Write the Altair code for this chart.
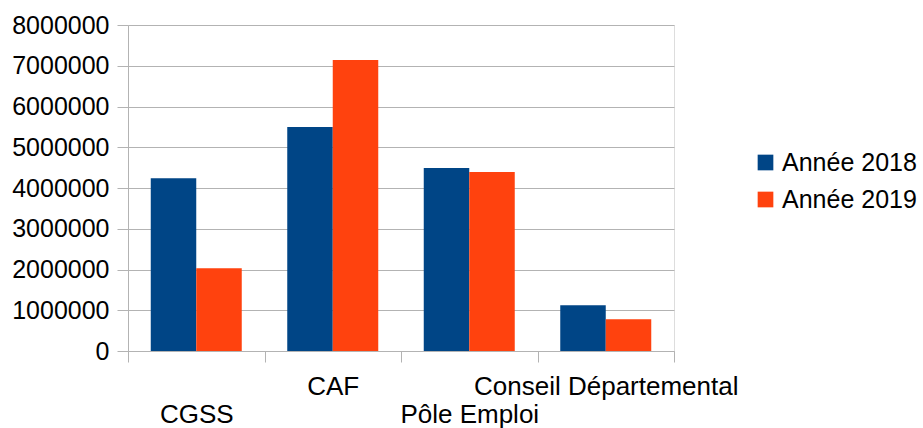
import altair as alt
import pandas as pd

categories = ["CGSS", "CAF", "Pôle Emploi", "Conseil Départemental"]
series = ["Année 2018", "Année 2019"]
values_2018 = [4240000, 5500000, 4490000, 1120000]
values_2019 = [2030000, 7140000, 4390000, 780000]
colors = ["#004586", "#ff420e"]
y_ticks = [0, 1000000, 2000000, 3000000, 4000000, 5000000, 6000000, 7000000, 8000000]

rows = []
for c, a, b in zip(categories, values_2018, values_2019):
    rows.append({"cat": c, "serie": series[0], "val": a})
    rows.append({"cat": c, "serie": series[1], "val": b})
df = pd.DataFrame(rows)

FONT = "Liberation Sans"
GRID = "#b3b3b3"

label_expr = "indexof(['CGSS', 'Pôle Emploi'], datum.value) >= 0 ? ['', datum.value] : datum.value"

chart = alt.Chart(df).mark_bar().encode(
    x=alt.X("cat:N", sort=categories, title=None,
            scale=alt.Scale(paddingInner=0, paddingOuter=0),
            axis=alt.Axis(labelAngle=0, tickBand="extent", tickSize=11, tickColor=GRID,
                          domainColor=GRID, labelFontSize=26, labelFont=FONT,
                          labelColor="black", labelPadding=11, labelLineHeight=28,
                          labelExpr=label_expr, labelOverlap=False, labelLimit=0,
                          grid=False)),
    xOffset=alt.XOffset("serie:N", sort=series,
                        scale=alt.Scale(paddingOuter=0.5, paddingInner=0)),
    y=alt.Y("val:Q", title=None,
            scale=alt.Scale(domain=[0, 8000000], nice=False),
            axis=alt.Axis(values=y_ticks, format="d", tickSize=11, tickColor=GRID,
                          domainColor=GRID, gridColor=GRID, labelFontSize=25,
                          labelFont=FONT, labelColor="black", labelPadding=8)),
    color=alt.Color("serie:N", sort=series,
                    scale=alt.Scale(domain=series, range=colors),
                    legend=alt.Legend(title=None, orient="none", legendX=625, legendY=125,
                                      symbolType="square", symbolSize=246,
                                      symbolStrokeWidth=0, labelFontSize=25,
                                      labelFont=FONT, labelColor="black",
                                      labelOffset=4, rowPadding=11, labelLimit=0)),
).properties(
    width=546, height=326,
    autosize=alt.AutoSizeParams(type="none"),
    padding={"left": 128, "top": 25, "right": 249, "bottom": 77},
).configure_view(stroke=GRID).configure(background="white")

chart.save("out.html", embed_options={"renderer": "svg", "actions": False})
